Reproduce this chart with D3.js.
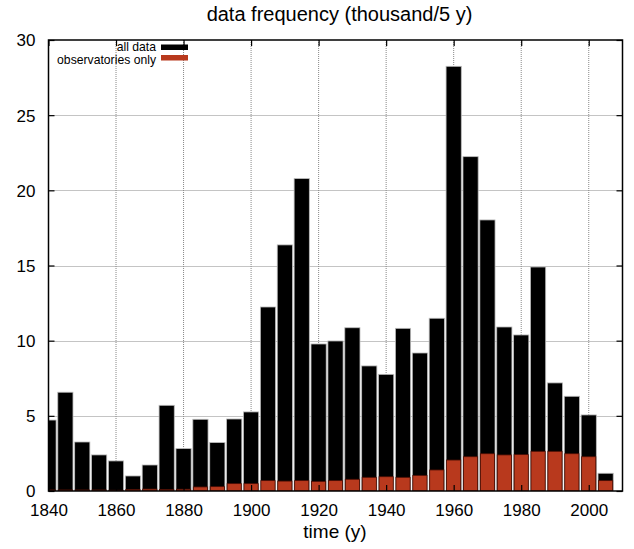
<!DOCTYPE html>
<html><head><meta charset="utf-8">
<script src="https://cdn.jsdelivr.net/npm/d3@7"></script>
<style>body{margin:0;background:#fff}svg{display:block}text{font-family:"Liberation Sans",Arial,sans-serif}</style>
</head><body><svg id="c" width="634" height="549"></svg>
<script>
const years = [1840,1845,1850,1855,1860,1865,1870,1875,1880,1885,1890,1895,1900,1905,1910,1915,1920,1925,1930,1935,1940,1945,1950,1955,1960,1965,1970,1975,1980,1985,1990,1995,2000,2005];
const allData = [4.72,6.57,3.26,2.4,2.0,1.0,1.73,5.7,2.82,4.77,3.22,4.79,5.26,12.24,16.37,20.78,9.78,9.98,10.86,8.32,7.76,10.82,9.18,11.49,28.25,22.24,18.03,10.91,10.38,14.9,7.19,6.3,5.06,1.18];
const obsOnly = [0.07,0.07,0.07,0.07,0.05,0.1,0.13,0.1,0.12,0.27,0.29,0.49,0.49,0.69,0.66,0.69,0.64,0.69,0.78,0.91,0.95,0.91,1.04,1.4,2.06,2.28,2.48,2.4,2.42,2.64,2.64,2.48,2.28,0.69];
const xTicks = [1840,1860,1880,1900,1920,1940,1960,1980,2000];
const yTicks = [0,5,10,15,20,25,30];
const seriesNames = ["all data","observatories only"];
const colors = ["#000000","#b8391d"];

const svg = d3.select("#c");
const L=48.5, R=622.5, T=40, B=491;
const x = d3.scaleLinear().domain([1840,2010]).range([L,R]);
const y = d3.scaleLinear().domain([0,30]).range([B,T]);
const binW = 4.5;

svg.append("defs").append("clipPath").attr("id","clip").append("rect")
  .attr("x",L).attr("y",T).attr("width",R-L).attr("height",B-T);

// grid
const g = svg.append("g");
g.selectAll("line.gx").data(xTicks.slice(1)).join("line")
  .attr("x1",d=>x(d)).attr("x2",d=>x(d)).attr("y1",T).attr("y2",B)
  .attr("stroke","#888").attr("stroke-width",1).attr("stroke-dasharray","1,1");
g.selectAll("line.gy").data(yTicks.slice(1,-1)).join("line")
  .attr("y1",d=>Math.round(y(d))+0.5).attr("y2",d=>Math.round(y(d))+0.5).attr("x1",L).attr("x2",R)
  .attr("stroke","#888").attr("stroke-width",1).attr("stroke-dasharray","1,1");

const bars = svg.append("g").attr("clip-path","url(#clip)");
bars.selectAll("rect.a").data(years).join("rect")
  .attr("x",(d)=>x(d-binW/2)).attr("width",x(binW)-x(0))
  .attr("y",(d,i)=>y(allData[i])).attr("height",(d,i)=>B-y(allData[i]))
  .attr("fill",colors[0]).attr("stroke","#bbb").attr("stroke-width",0.8);
bars.selectAll("rect.o").data(years).join("rect")
  .attr("x",(d)=>x(d-binW/2)+0.5).attr("width",x(binW)-x(0)-1)
  .attr("y",(d,i)=>y(obsOnly[i])).attr("height",(d,i)=>B-y(obsOnly[i]))
  .attr("fill",colors[1]).attr("stroke","#4a0e04").attr("stroke-width",0.8);

// frame
svg.append("rect").attr("x",L).attr("y",T).attr("width",R-L).attr("height",B-T)
  .attr("fill","none").attr("stroke","#000").attr("stroke-width",1.5);

// axes
const xb = svg.append("g").attr("transform",`translate(0,${B})`)
  .call(d3.axisBottom(x).tickValues(xTicks).tickFormat(d3.format("d")).tickSizeInner(-6).tickSizeOuter(0).tickPadding(13));
const xt = svg.append("g").attr("transform",`translate(0,${T})`)
  .call(d3.axisTop(x).tickValues(xTicks).tickFormat("").tickSizeInner(-6).tickSizeOuter(0));
const yl = svg.append("g").attr("transform",`translate(${L},0)`)
  .call(d3.axisLeft(y).tickValues(yTicks).tickSizeInner(-6).tickSizeOuter(0).tickPadding(13));
const yr = svg.append("g").attr("transform",`translate(${R},0)`)
  .call(d3.axisRight(y).tickValues(yTicks).tickFormat("").tickSizeInner(-6).tickSizeOuter(0));
[xb,xt,yl,yr].forEach(a=>{a.select(".domain").remove();
  a.selectAll(".tick line").attr("stroke","#000").attr("stroke-width",1.2);
  a.selectAll("text").attr("font-size",17).attr("fill","#000").style("font-family","Liberation Sans, Arial, sans-serif");});
yl.selectAll("text").attr("dy","0.35em");

// titles
svg.append("text").attr("x",339.5).attr("y",21).attr("text-anchor","middle").attr("font-size",20).text("data frequency (thousand/5 y)");
svg.append("text").attr("x",335).attr("y",538).attr("text-anchor","middle").attr("font-size",19).text("time (y)");

// legend
const lg = svg.append("g");
seriesNames.forEach((n,i)=>{
  const base = 51 + i*12.5;
  lg.append("text").attr("x",156).attr("y",base).attr("text-anchor","end").attr("font-size",12.2).text(n);
  lg.append("rect").attr("x",161).attr("y",44.5 + i*10.5).attr("width",27).attr("height",5.5).attr("fill",colors[i]);
});
</script></body></html>
